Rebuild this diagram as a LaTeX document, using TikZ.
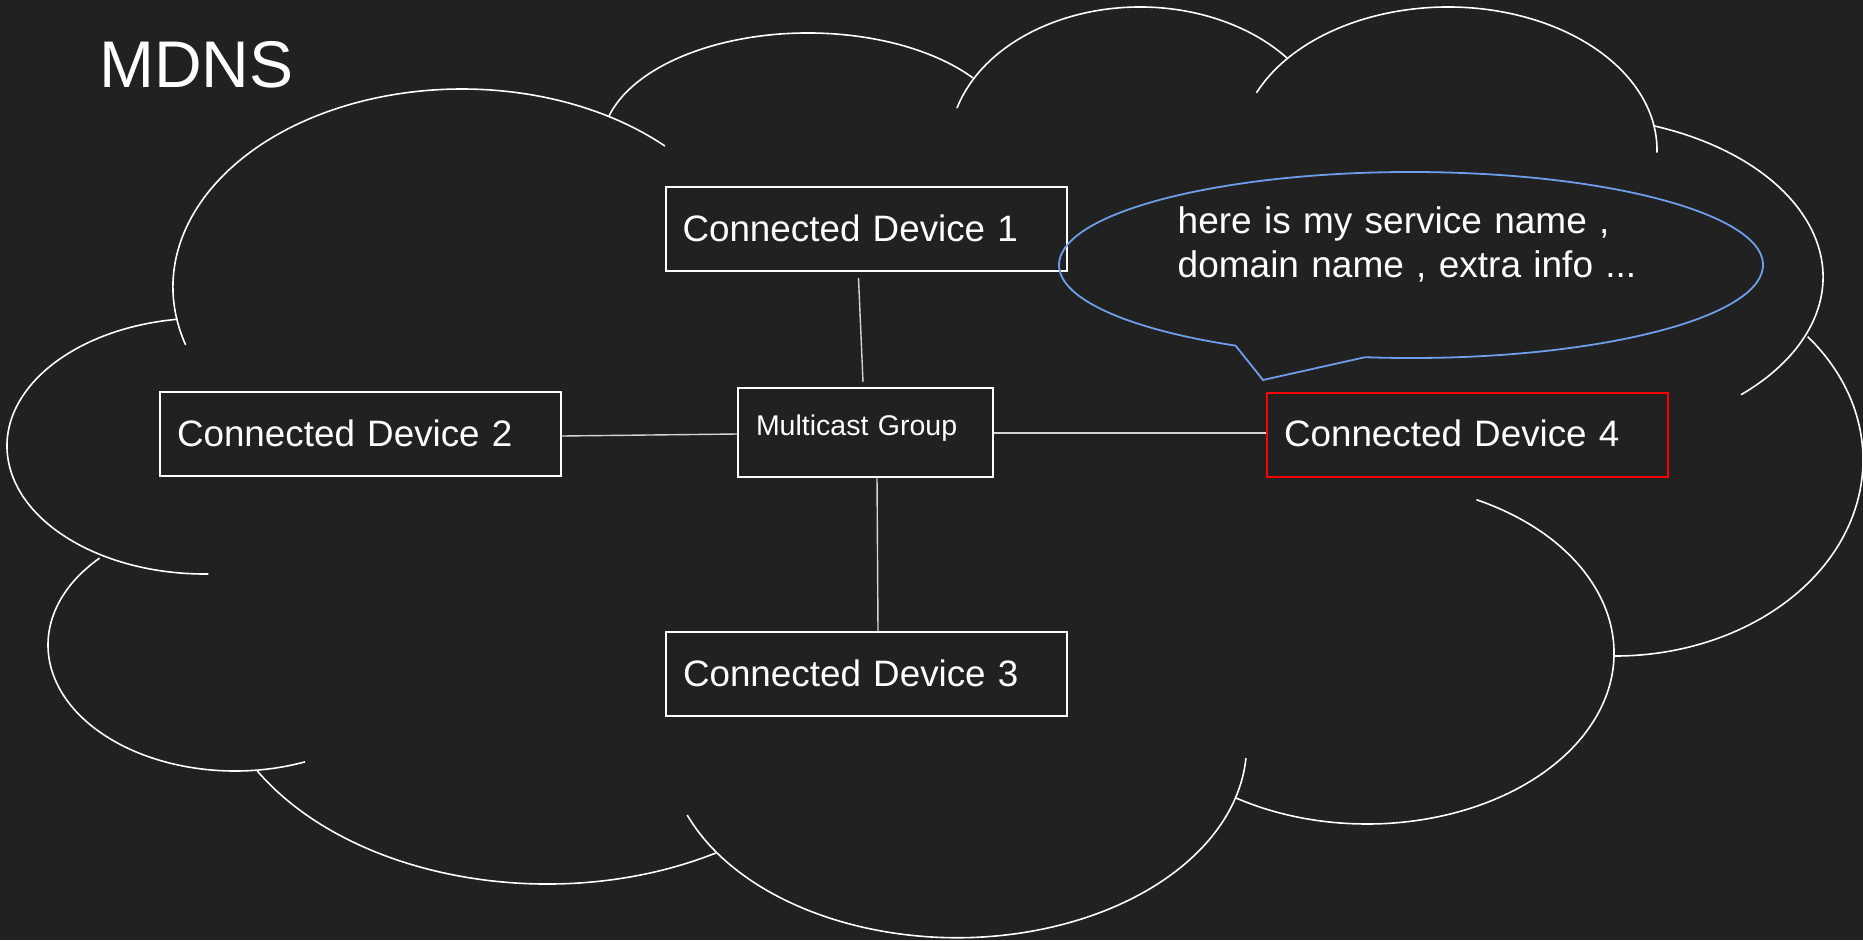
\documentclass[tikz,border=0pt]{standalone}
\usepackage{fontspec}
\setmainfont{Liberation Sans}
\definecolor{bg}{HTML}{212121}
\definecolor{bubbleblue}{HTML}{6D9EEB}
\definecolor{wiregray}{HTML}{D4D4D4}

% one elliptical lobe of the cloud: centre, x radius, y radius, start angle, end angle
\newcommand\cloudarc[5]{%
  \draw[cloudline] ([shift={(#4:#2pt and #3pt)}]#1) arc[start angle=#4,end angle=#5,x radius=#2pt,y radius=#3pt];}

\begin{document}
\begin{tikzpicture}[x=1pt,y=1pt,
  cloudline/.style={draw=white,line width=1.6pt},
  device/.style={draw=white,line width=2pt,minimum width=401pt,minimum height=84pt,
    inner xsep=17pt,inner ysep=0pt,text width=367pt,align=left,text=white,
    font=\fontsize{36.8}{44}\selectfont,text height=26.5pt,text depth=2.5pt},
  groupbox/.style={draw=white,line width=2pt,minimum width=255pt,minimum height=89pt,
    inner xsep=18pt,inner ysep=0pt,text width=219pt,align=left,text=white,
    font=\fontsize{28.5}{34}\selectfont,text height=21pt,text depth=16pt},
  wire/.style={draw=wiregray,line width=1.4pt},
  bubble/.style={draw=bubbleblue,line width=1.8pt,line join=miter}]

% background and page size
\fill[bg] (0,0) rectangle (1863,-940);
\useasboundingbox (0,0) rectangle (1863,-940);

% cloud outline, lobe by lobe
\cloudarc{462,-287}{289}{198}{197}{45.4}
\cloudarc{808,-145}{206}{112}{165}{36.8}
\cloudarc{1140,-147.5}{190.7}{140.5}{163.7}{39.6}
\cloudarc{1448,-150}{209}{143}{156.4}{-1}
\cloudarc{1565,-277}{258}{161}{70}{-47}
\cloudarc{1615,-460}{248}{196}{39}{-90}
\cloudarc{1367,-653}{247}{171}{63.7}{-122}
\cloudarc{957,-745}{289.6}{192.7}{201.3}{356.1}
\cloudarc{547,-655}{336}{229}{210.4}{300.2}
\cloudarc{235,-645}{187}{126}{136.4}{292}
\cloudarc{205,-446}{198}{128}{98}{271}

% title
\node[anchor=base west,inner sep=0pt,text=white,font=\fontsize{66}{79}\selectfont] (title) at (99,-87) {MDNS};

% devices and the multicast group
\node[device] (d1) at (866,-229) {Connected Device 1};
\node[device] (d2) at (360.5,-434) {Connected Device 2};
\node[device] (d3) at (866.5,-674) {Connected Device 3};
\node[device,draw=red] (d4) at (1467.5,-434.5) {Connected Device 4};
\node[groupbox] (mc) at (865.5,-432.5) {Multicast Group};

% links to the group
\draw[wire] ([xshift=-7.5pt,yshift=-6pt]d1.south) -- ([xshift=-2.5pt,yshift=5pt]mc.north);
\draw[wire] ([xshift=11.5pt,yshift=1pt]mc.south) -- ([xshift=11.5pt]d3.north);
\draw[wire] ([yshift=-2pt]d2.east) -- ([yshift=-1.5pt]mc.west);
\draw[wire] ([yshift=-0.5pt]mc.east) -- ([yshift=1.5pt]d4.west);

% speech bubble announcing the service
\coordinate (tip) at (1263,-380);
\draw[bubble] ([shift={(262.5:352pt and 93pt)}]1411,-265)
  arc[start angle=262.5,end angle=600.1,x radius=352pt,y radius=93pt] -- (tip) -- cycle;
\node[anchor=base west,inner sep=0pt,text=white,text width=520pt,align=left,
  font=\fontsize{37}{44}\selectfont] (msg) at (1177.5,-233)
  {here is my service name ,\\domain name , extra info ...};
\end{tikzpicture}
\end{document}
